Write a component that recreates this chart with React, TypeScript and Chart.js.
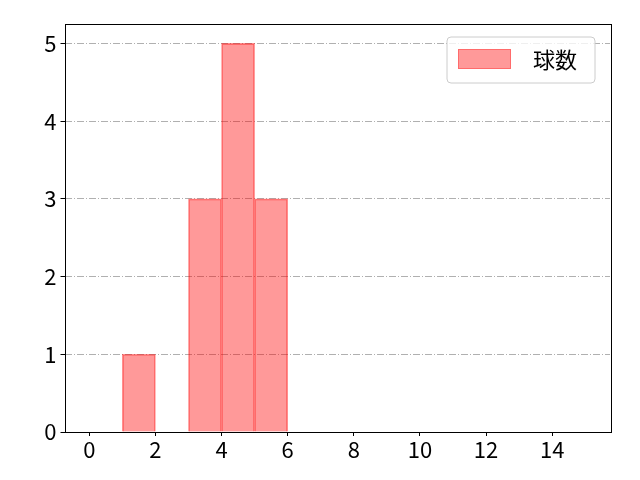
import React, { useEffect, useRef } from "react";
import { Chart, registerables } from "chart.js";

Chart.register(...registerables);

const binCenters = [1.5, 3.5, 4.5, 5.5];
const counts = [1, 3, 5, 3];
const xTicks = [0, 2, 4, 6, 8, 10, 12, 14];
const yTicks = [0, 1, 2, 3, 4, 5];
const seriesLabel = "球数";

const FONT = "'Noto Sans CJK JP', 'Noto Sans', sans-serif";

const framePlugin = {
  id: "frame",
  afterDraw(chart: any) {
    const { ctx, chartArea: a } = chart;
    ctx.save();
    ctx.strokeStyle = "#000";
    ctx.lineWidth = 1;
    ctx.strokeRect(Math.round(a.left) + 0.5, Math.round(a.top) + 0.5, Math.round(a.right - a.left), Math.round(a.bottom - a.top));
    // legend
    const x = a.right - 163, y = a.top + 13, w = 148, h = 46, r = 4;
    ctx.beginPath();
    ctx.moveTo(x + r, y);
    ctx.arcTo(x + w, y, x + w, y + h, r);
    ctx.arcTo(x + w, y + h, x, y + h, r);
    ctx.arcTo(x, y + h, x, y, r);
    ctx.arcTo(x, y, x + w, y, r);
    ctx.closePath();
    ctx.fillStyle = "rgba(255,255,255,0.8)";
    ctx.fill();
    ctx.strokeStyle = "#cccccc";
    ctx.stroke();
    ctx.fillStyle = "rgba(255,0,0,0.4)";
    ctx.fillRect(x + 11, y + 12, 53, 20);
    ctx.strokeStyle = "rgba(255,0,0,0.3)";
    ctx.strokeRect(x + 11.5, y + 12.5, 52, 19);
    ctx.fillStyle = "#000";
    ctx.font = `22px ${FONT}`;
    ctx.textBaseline = "middle";
    ctx.textAlign = "left";
    ctx.fillText(seriesLabel, x + 86, y + 23);
    ctx.restore();
  },
};

export default function App() {
  const ref = useRef<HTMLCanvasElement>(null);
  useEffect(() => {
    document.body.style.margin = "0";
    const chart = new Chart(ref.current!, {
      type: "bar",
      data: {
        datasets: [
          {
            label: seriesLabel,
            data: binCenters.map((c, i) => ({ x: c, y: counts[i] })),
            backgroundColor: "rgba(255,0,0,0.4)",
            borderColor: "rgba(255,0,0,0.45)",
            borderWidth: 1,
            barPercentage: 1,
            categoryPercentage: 1,
            grouped: false,
          } as any,
        ],
      },
      options: {
        responsive: false,
        animation: false,
        layout: { padding: { top: 24, right: 30, left: 0, bottom: 0 } },
        plugins: { legend: { display: false }, tooltip: { enabled: false } },
        scales: {
          x: {
            type: "linear",
            offset: false,
            min: -0.75,
            max: 15.75,
            afterBuildTicks: (s: any) => {
              s.ticks = xTicks.map((v) => ({ value: v }));
            },
            afterFit: (s: any) => {
              s.height = 48;
            },
            grid: { drawOnChartArea: false, color: "#000", tickLength: 4, offset: false },
            border: { display: false },
            ticks: { color: "#000", font: { family: FONT, size: 22 }, padding: 0, maxRotation: 0, autoSkip: false },
          },
          y: {
            min: 0,
            max: 5.25,
            z: 1,
            afterBuildTicks: (s: any) => {
              s.ticks = yTicks.map((v) => ({ value: v }));
            },
            afterFit: (s: any) => {
              s.width = 64.5;
            },
            grid: {
              color: (c: any) => (c.tick && c.tick.value === 0 ? "rgba(0,0,0,0)" : "#b0b0b0"),
              tickColor: "#000",
              tickBorderDash: [],
              tickLength: 4,
              lineWidth: 1,
            } as any,
            border: { display: false, dash: [7, 2, 1, 2] },
            ticks: { color: "#000", font: { family: FONT, size: 22 }, padding: 4, autoSkip: false },
          },
        },
      },
      plugins: [framePlugin],
    });
    return () => chart.destroy();
  }, []);
  return <canvas ref={ref} width={640} height={480} style={{ display: "block" }} />;
}
